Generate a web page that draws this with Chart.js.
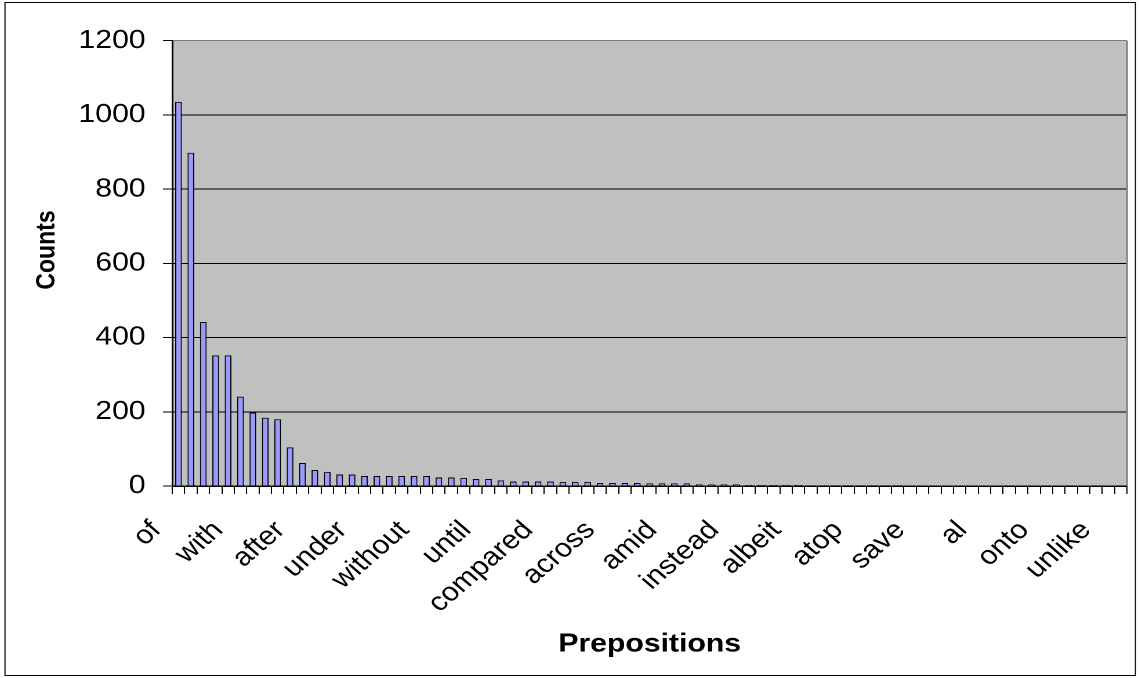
<!DOCTYPE html>
<html>
<head>
<meta charset="utf-8">
<script src="https://cdn.jsdelivr.net/npm/chart.js@4.4.1/dist/chart.umd.min.js"></script>
<style>
  html, body { margin: 0; padding: 0; background: #fff; overflow: hidden; }
  #wrap { width: 982px; height: 678px; transform: scale(1.16, 1); transform-origin: 0 0; }
  canvas { display: block; }
</style>
</head>
<body>
<div id="wrap"><canvas id="c" width="982" height="678"></canvas></div>
<script>
// Words shown on the category axis, one every fifth preposition
const tickLabels = ['of', 'with', 'after', 'under', 'without', 'until', 'compared', 'across',
  'amid', 'instead', 'albeit', 'atop', 'save', 'al', 'onto', 'unlike'];
const labelEvery = 5;

// Count per preposition, in rank order
const counts = [
  1035, 898, 442, 352, 352, 241, 198, 184, 180, 104,
  62, 43, 38, 31, 31, 27, 27, 27, 27, 27,
  27, 23, 23, 22, 19, 19, 15, 12, 12, 12,
  12, 11, 11, 11, 8, 8, 8, 8, 7, 7,
  7, 7, 4, 4, 4, 4, 3, 3, 3, 3,
  3, 2, 2, 2, 2, 2, 2, 2, 2, 0,
  0, 0, 0, 0, 0, 0, 0, 0, 0, 0,
  0, 0, 0, 0, 0, 0, 0
];

// Value axis
const yMin = 0;
const yMax = 1200;
const yStep = 200;

const xTitle = 'Prepositions';
const yTitle = 'Counts';

const categories = counts.map((_, i) => (i % labelEvery === 0 ? (tickLabels[i / labelEvery] || '') : ''));

const FONT = "'Liberation Sans', Arial, sans-serif";

const framePlugin = {
  id: 'frame',
  beforeDraw(chart) {
    const { ctx, chartArea: a } = chart;
    ctx.save();
    ctx.fillStyle = '#ffffff';
    ctx.fillRect(0, 0, chart.width, chart.height);
    ctx.fillStyle = '#C0C0C0';
    ctx.fillRect(a.left, a.top, a.right - a.left, a.bottom - a.top);
    ctx.restore();
  },
  afterDraw(chart) {
    const { ctx, chartArea: a } = chart;
    ctx.save();
    // plot area edge on the right
    ctx.strokeStyle = '#808080';
    ctx.lineWidth = 1.5;
    ctx.beginPath();
    ctx.moveTo(a.right, a.top);
    ctx.lineTo(a.right, a.bottom);
    ctx.stroke();
    // value axis title
    ctx.fillStyle = '#000';
    ctx.font = "bold 23px " + FONT;
    ctx.textAlign = 'center';
    ctx.textBaseline = 'middle';
    ctx.translate(40.5, 250);
    ctx.rotate(-Math.PI / 2);
    ctx.fillText(yTitle, 0, 0);
    ctx.setTransform(chart.currentDevicePixelRatio, 0, 0, chart.currentDevicePixelRatio, 0, 0);
    // outer frame
    ctx.strokeStyle = '#000000';
    ctx.lineWidth = 1;
    ctx.strokeRect(4.3, 2.5, 974.5, 673);
    ctx.restore();
  }
};

new Chart(document.getElementById('c'), {
  type: 'bar',
  data: {
    labels: categories,
    datasets: [{
      data: counts,
      backgroundColor: '#9999FF',
      borderColor: '#000000',
      borderWidth: 1,
      barPercentage: 0.54,
      categoryPercentage: 1.0
    }]
  },
  options: {
    responsive: false,
    animation: false,
    devicePixelRatio: 2,
    layout: { padding: { left: 0, top: 40.7, right: 10.4, bottom: 0 } },
    plugins: { legend: { display: false }, tooltip: { enabled: false } },
    scales: {
      x: {
        offset: true,
        grid: { offset: true, drawOnChartArea: false, drawTicks: true, tickLength: 8, color: '#000', lineWidth: 1 },
        border: { color: '#000', width: 1.5 },
        ticks: {
          autoSkip: false,
          maxRotation: 45,
          minRotation: 45,
          padding: 21,
          labelOffset: -19,
          color: '#000',
          font: { family: FONT, size: 26 }
        },
        title: {
          display: true,
          text: xTitle,
          color: '#000',
          font: { family: FONT, size: 26, weight: 'bold' },
          padding: { top: 0, bottom: 18 }
        },
        afterFit(scale) {
          scale.height = 192;
          scale.paddingLeft = 0;
          scale.paddingRight = 0;
        }
      },
      y: {
        min: yMin,
        max: yMax,
        ticks: {
          stepSize: yStep,
          padding: 15,
          color: '#000',
          font: { family: FONT, size: 26 },
          callback: (v) => String(v)
        },
        grid: {
          color: (c) => (c.tick && c.tick.value === yMax ? '#808080' : '#000'),
          tickColor: '#000',
          tickLength: 8,
          lineWidth: 1
        },
        border: { color: '#000', width: 1.5 },
        title: { display: false },
        afterFit(scale) {
          scale.width = 148.5;
          scale.paddingTop = 0;
          scale.paddingBottom = 0;
        }
      }
    }
  },
  plugins: [framePlugin]
});
</script>
</body>
</html>
